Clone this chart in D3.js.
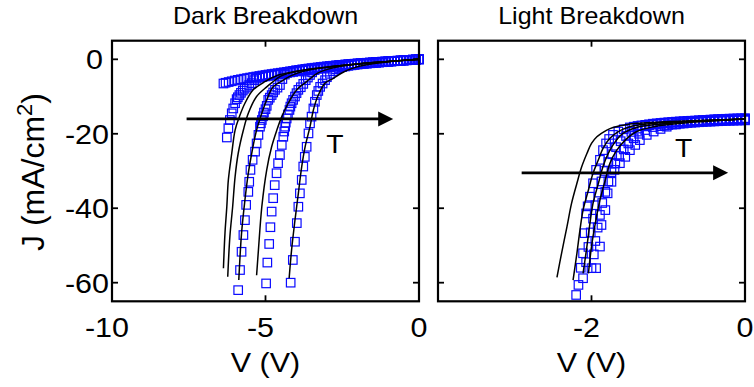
<!DOCTYPE html>
<html>
<head>
<meta charset="utf-8">
<script src="https://cdn.jsdelivr.net/npm/d3@7/dist/d3.min.js"></script>
<style>
  html, body { margin: 0; padding: 0; background: #fff; }
  svg { display: block; }
  text { font-family: "Liberation Sans", Arial, Helvetica, sans-serif; fill: #000; }
</style>
</head>
<body>
<svg id="chart" width="754" height="387"></svg>
<script>
// ---- Dark breakdown: measured J-V (squares), [V, J] ----
const darkA = [[0,0],[-0.1,-0.06],[-0.2,-0.12],[-0.3,-0.18],[-0.4,-0.24],[-0.5,-0.3],[-0.6,-0.36],[-0.7,-0.42],[-0.8,-0.48],[-0.9,-0.54],
  [-1,-0.6],[-1.1,-0.66],[-1.2,-0.72],[-1.3,-0.78],[-1.4,-0.84],[-1.5,-0.9],[-1.6,-0.96],[-1.7,-1.02],[-1.8,-1.08],[-1.9,-1.14],
  [-2,-1.2],[-2.1,-1.28],[-2.2,-1.36],[-2.3,-1.44],[-2.4,-1.52],[-2.5,-1.6],[-2.6,-1.68],[-2.7,-1.76],[-2.8,-1.84],[-2.9,-1.92],
  [-3,-2],[-3.1,-2.1],[-3.2,-2.2],[-3.3,-2.3],[-3.4,-2.4],[-3.5,-2.5],[-3.6,-2.6],[-3.7,-2.7],[-3.8,-2.8],[-3.9,-2.9],
  [-4,-3],[-4.1,-3.12],[-4.2,-3.24],[-4.3,-3.36],[-4.4,-3.48],[-4.5,-3.6],[-4.6,-3.72],[-4.7,-3.84],[-4.8,-3.96],[-4.9,-4.08],
  [-5,-4.2],[-5.1,-4.34],[-5.2,-4.48],[-5.3,-4.62],[-5.4,-4.76],[-5.5,-4.9],[-5.6,-5.05],[-5.7,-5.2],[-5.8,-5.36],[-5.9,-5.52],
  [-6,-5.7],[-6.1,-5.9],[-6.2,-6.1],[-6.3,-6.3],[-6.37,-6.5]];
const darkB = [[0,0],[-0.1,-0.07],[-0.2,-0.13],[-0.3,-0.2],[-0.4,-0.26],[-0.5,-0.33],[-0.6,-0.39],[-0.7,-0.46],[-0.8,-0.52],[-0.9,-0.59],
  [-1,-0.65],[-1.1,-0.72],[-1.2,-0.78],[-1.3,-0.85],[-1.4,-0.91],[-1.5,-0.98],[-1.6,-1.04],[-1.7,-1.11],[-1.8,-1.17],[-1.9,-1.24],
  [-2,-1.3],[-2.1,-1.39],[-2.2,-1.47],[-2.3,-1.56],[-2.4,-1.64],[-2.5,-1.73],[-2.6,-1.82],[-2.7,-1.9],[-2.8,-1.99],[-2.9,-2.08],
  [-3,-2.17],[-3.1,-2.27],[-3.2,-2.38],[-3.3,-2.49],[-3.4,-2.6],[-3.5,-2.71],[-3.6,-2.82],[-3.7,-2.93],[-3.8,-3.04],[-3.9,-3.15],
  [-4,-3.26],[-4.1,-3.39],[-4.2,-3.52],[-4.3,-3.65],[-4.4,-3.78],[-4.5,-3.91],[-4.6,-4.04],[-4.7,-4.18],[-4.8,-4.32],[-4.9,-4.46],
  [-5,-4.6],[-5.1,-4.76],[-5.2,-4.95],[-5.3,-5.2],[-5.37,-5.6],[-5.45,-6.4],[-5.53,-6.9],[-5.61,-7.4],[-5.68,-7.9],[-5.74,-8.4],
  [-5.8,-9],[-5.85,-9.6],[-5.9,-10.2],[-5.94,-10.7],[-5.99,-11.8],[-6.05,-13.2],[-6.1,-14.5],[-6.16,-16.3],[-6.21,-18.5],[-6.26,-21]];
const darkC = [[0,0],[-0.1,-0.05],[-0.2,-0.11],[-0.3,-0.16],[-0.4,-0.22],[-0.5,-0.27],[-0.6,-0.33],[-0.7,-0.38],[-0.8,-0.44],[-0.9,-0.49],
  [-1,-0.55],[-1.1,-0.6],[-1.2,-0.66],[-1.3,-0.72],[-1.4,-0.77],[-1.5,-0.83],[-1.6,-0.89],[-1.7,-0.95],[-1.8,-1.01],[-1.9,-1.07],
  [-2,-1.13],[-2.1,-1.2],[-2.2,-1.27],[-2.3,-1.34],[-2.4,-1.41],[-2.5,-1.48],[-2.6,-1.56],[-2.7,-1.64],[-2.8,-1.72],[-2.9,-1.8],
  [-3,-1.88],[-3.1,-1.97],[-3.2,-2.06],[-3.3,-2.16],[-3.4,-2.26],[-3.5,-2.36],[-3.6,-2.47],[-3.7,-2.58],[-3.8,-2.7],[-3.9,-2.83],
  [-4,-2.97],[-4.1,-3.13],[-4.2,-3.32],[-4.3,-3.56],[-4.37,-4.1],[-4.45,-5.3],[-4.53,-6.9],[-4.61,-7.6],[-4.69,-8.2],[-4.75,-8.9],
  [-4.8,-9.6],[-4.86,-10.3],[-4.91,-10.9],[-4.96,-12.5],[-5,-13.4],[-5.05,-14.3],[-5.08,-15.3],[-5.12,-16.3],[-5.15,-17.2],[-5.18,-18.1],
  [-5.23,-20.3],[-5.29,-22.6],[-5.34,-24.8],[-5.42,-27],[-5.49,-29.7],[-5.53,-32.9],[-5.56,-35.6],[-5.63,-39.1],[-5.67,-43.2],[-5.72,-47.2],
  [-5.78,-51.7],[-5.83,-56.6],[-5.89,-62]];
const darkD = [[0,0],[-0.1,-0.05],[-0.2,-0.1],[-0.3,-0.15],[-0.4,-0.2],[-0.5,-0.26],[-0.6,-0.31],[-0.7,-0.36],[-0.8,-0.41],[-0.9,-0.47],
  [-1,-0.52],[-1.1,-0.57],[-1.2,-0.63],[-1.3,-0.68],[-1.4,-0.74],[-1.5,-0.8],[-1.6,-0.86],[-1.7,-0.92],[-1.8,-0.98],[-1.9,-1.05],
  [-2,-1.12],[-2.1,-1.19],[-2.2,-1.26],[-2.3,-1.34],[-2.4,-1.42],[-2.5,-1.5],[-2.6,-1.59],[-2.7,-1.68],[-2.8,-1.78],[-2.9,-1.89],
  [-3,-2.01],[-3.1,-2.15],[-3.2,-2.32],[-3.3,-2.55],[-3.4,-2.9],[-3.48,-3.5],[-3.55,-4.2],[-3.62,-4.9],[-3.69,-5.6],[-3.77,-6.6],
  [-3.85,-7.5],[-3.93,-8.2],[-3.99,-9.1],[-4.04,-10],[-4.1,-10.9],[-4.15,-11.8],[-4.19,-12.7],[-4.22,-13.6],[-4.27,-14.8],[-4.31,-15.9],
  [-4.34,-17],[-4.36,-18.1],[-4.39,-19.4],[-4.42,-20.8],[-4.47,-23],[-4.53,-25.7],[-4.59,-27.9],[-4.64,-30.6],[-4.7,-33.8],[-4.75,-37.3],
  [-4.8,-40.9],[-4.84,-45.1],[-4.88,-49.6],[-4.94,-54.6],[-4.98,-60.2]];
const darkE = [[0,0],[-0.1,-0.05],[-0.2,-0.1],[-0.3,-0.18],[-0.4,-0.24],[-0.5,-0.3],[-0.6,-0.36],[-0.7,-0.42],[-0.8,-0.48],[-0.9,-0.55],
  [-1,-0.62],[-1.1,-0.69],[-1.2,-0.76],[-1.3,-0.83],[-1.4,-0.9],[-1.5,-0.98],[-1.6,-1.06],[-1.7,-1.14],[-1.8,-1.22],[-1.9,-1.31],
  [-2,-1.4],[-2.1,-1.5],[-2.2,-1.62],[-2.3,-1.76],[-2.4,-1.92],[-2.5,-2.1],[-2.6,-2.35],[-2.7,-2.7],[-2.8,-3.2],[-2.9,-3.9],
  [-3,-4.8],[-3.06,-5.6],[-3.14,-6.5],[-3.22,-7.4],[-3.28,-8.5],[-3.33,-9.6],[-3.39,-11.4],[-3.44,-13.2],[-3.5,-15.4],[-3.55,-17.2],
  [-3.6,-19.9],[-3.66,-23.5],[-3.72,-26.2],[-3.77,-28.8],[-3.82,-32.4],[-3.88,-36],[-3.93,-39.6],[-3.98,-44],[-4.04,-49],[-4.11,-53.9],
  [-4.18,-60]];

// ---- Dark breakdown: simulated curves (black lines) ----
const darkFit1 = [[0,0],[-1,-0.6],[-2,-1.25],[-3,-2.1],[-4,-3.2],[-4.6,-4.3],[-5.02,-6],[-5.4,-8.2],[-5.67,-11.8],[-5.85,-15.4],[-5.99,-19],
  [-6.1,-25.3],[-6.21,-32.4],[-6.26,-39.6],[-6.32,-46.7],[-6.37,-56.1]];
const darkFit2 = [[0,0],[-1,-0.6],[-2,-1.25],[-3,-2.1],[-4,-3.3],[-4.5,-4.5],[-4.75,-6],[-4.96,-7.4],[-5.29,-10],[-5.56,-14.5],[-5.72,-19],
  [-5.89,-25.3],[-5.99,-31.5],[-6.07,-39.6],[-6.16,-47.6],[-6.23,-58.4]];
const darkFit3 = [[0,0],[-1,-0.6],[-2,-1.25],[-3,-2.1],[-3.8,-3.3],[-4.2,-4.5],[-4.42,-5.6],[-4.75,-7.4],[-4.96,-10.9],[-5.12,-14.5],[-5.29,-19],
  [-5.45,-25.3],[-5.56,-30.6],[-5.67,-37.8],[-5.78,-46.7],[-5.87,-59.3]];
const darkFit4 = [[0,0],[-1,-0.6],[-2,-1.3],[-2.8,-2.3],[-3.3,-3.7],[-3.66,-6],[-3.98,-8.2],[-4.26,-11.8],[-4.47,-15.4],[-4.63,-19],[-4.8,-23.5],
  [-4.96,-29.7],[-5.12,-39.6],[-5.23,-51.2],[-5.29,-58]];
const darkFit5 = [[0,0],[-1,-0.65],[-1.8,-1.6],[-2.2,-2.5],[-2.5,-3.6],[-2.79,-5.1],[-3.06,-6.4],[-3.28,-9.6],[-3.44,-13.6],[-3.55,-18.1],[-3.71,-23.5],
  [-3.82,-28.8],[-3.93,-36],[-4.04,-43.2],[-4.15,-51.2],[-4.23,-58.8]];

// ---- Light breakdown: measured J-V (squares), [V, J] ----
const lightA = [[0,-16],[-0.05,-16.02],[-0.1,-16.05],[-0.15,-16.07],[-0.2,-16.1],[-0.25,-16.12],[-0.3,-16.15],[-0.35,-16.17],[-0.4,-16.2],[-0.45,-16.25],
  [-0.5,-16.3],[-0.55,-16.35],[-0.6,-16.4],[-0.65,-16.45],[-0.7,-16.5],[-0.75,-16.55],[-0.8,-16.6],[-0.85,-16.67],[-0.9,-16.75],[-0.95,-16.82],
  [-1,-16.9],[-1.05,-17],[-1.1,-17.1],[-1.15,-17.2],[-1.2,-17.3],[-1.25,-17.45],[-1.3,-17.6],[-1.35,-17.75],[-1.4,-17.9],[-1.45,-18.1],
  [-1.5,-18.3],[-1.58,-18.8],[-1.65,-19.4],[-1.72,-20.3],[-1.77,-21.4],[-1.81,-22.6],[-1.85,-24.4],[-1.89,-27],[-1.94,-29.7],[-1.98,-33.3],
  [-2.02,-36.9],[-2.05,-39.5],[-2.07,-41.4],[-2.09,-46.7],[-2.11,-52.1],[-2.14,-56],[-2.17,-60.6],[-2.2,-63.3]];
const lightB = [[0,-16.2],[-0.05,-16.22],[-0.1,-16.25],[-0.15,-16.27],[-0.2,-16.3],[-0.25,-16.33],[-0.3,-16.36],[-0.35,-16.4],[-0.4,-16.44],[-0.45,-16.48],
  [-0.5,-16.52],[-0.55,-16.57],[-0.6,-16.62],[-0.65,-16.67],[-0.7,-16.72],[-0.75,-16.78],[-0.8,-16.84],[-0.85,-16.9],[-0.9,-16.97],[-0.95,-17.05],
  [-1,-17.13],[-1.05,-17.22],[-1.1,-17.32],[-1.15,-17.43],[-1.2,-17.55],[-1.25,-17.68],[-1.3,-17.82],[-1.4,-18.6],[-1.48,-19.5],[-1.55,-20.6],
  [-1.62,-22],[-1.68,-23.6],[-1.73,-25.5],[-1.78,-27.6],[-1.83,-30],[-1.87,-32.8],[-1.91,-35.8],[-1.95,-39.2],[-1.98,-42.8],[-2.01,-46.5],
  [-2.04,-50.4],[-2.07,-54.5],[-2.11,-58.8]];
const lightC = [[0,-16.4],[-0.05,-16.42],[-0.1,-16.45],[-0.15,-16.48],[-0.2,-16.51],[-0.25,-16.55],[-0.3,-16.59],[-0.35,-16.63],[-0.4,-16.68],[-0.45,-16.73],
  [-0.5,-16.78],[-0.55,-16.84],[-0.6,-16.9],[-0.65,-16.97],[-0.7,-17.04],[-0.75,-17.12],[-0.8,-17.2],[-0.85,-17.3],[-0.9,-17.4],[-0.95,-17.52],
  [-1,-17.65],[-1.05,-17.8],[-1.1,-17.95],[-1.2,-18.2],[-1.3,-19],[-1.38,-20],[-1.45,-21.2],[-1.52,-22.6],[-1.58,-24.2],[-1.64,-26],
  [-1.69,-28],[-1.74,-30.3],[-1.78,-32.8],[-1.82,-35.6],[-1.86,-38.6],[-1.89,-41.8],[-1.92,-45.2],[-1.95,-48.8],[-1.97,-52.4],[-2,-56.1]];
const lightD = [[0,-15.8],[-0.05,-15.83],[-0.1,-15.86],[-0.15,-15.9],[-0.2,-15.94],[-0.25,-15.98],[-0.3,-16.03],[-0.35,-16.08],[-0.4,-16.14],[-0.45,-16.2],
  [-0.5,-16.27],[-0.55,-16.35],[-0.6,-16.44],[-0.65,-16.54],[-0.7,-16.65],[-0.75,-16.78],[-0.8,-17.2],[-0.9,-17.5],[-1.02,-18.1],[-1.1,-18.7],
  [-1.19,-19.4],[-1.28,-20.3],[-1.37,-21.7],[-1.43,-23],[-1.5,-24.4],[-1.56,-26.2],[-1.63,-27.9],[-1.7,-29.7],[-1.74,-32.9],[-1.79,-36],
  [-1.82,-40.5],[-1.87,-44.5],[-1.89,-50.3],[-1.94,-56.1]];

// ---- Light breakdown: simulated curves (black lines) ----
const lightFit1 = [[0,-16],[-0.7,-16.5],[-1.41,-17.2],[-1.59,-17.7],[-1.72,-18.3],[-1.8,-19],[-1.87,-19.9],[-1.93,-20.8],[-2,-22.6],[-2.06,-25.3],
  [-2.13,-29],[-2.19,-33.3],[-2.26,-38.7],[-2.32,-45],[-2.39,-52.1],[-2.45,-58.6]];
const lightFit2 = [[0,-16],[-0.7,-16.6],[-1.28,-17.4],[-1.5,-18.1],[-1.65,-19.4],[-1.76,-21.2],[-1.85,-23.9],[-1.91,-27],[-1.98,-30.6],[-2.04,-35.1],
  [-2.11,-40.5],[-2.15,-45.8],[-2.19,-52.1],[-2.24,-59.3]];
const lightFit3 = [[0,-16],[-0.7,-16.7],[-1.19,-17.6],[-1.41,-18.3],[-1.59,-19.9],[-1.69,-22.1],[-1.78,-25.2],[-1.85,-28.8],[-1.91,-33.3],[-1.98,-38.7],
  [-2.02,-44],[-2.06,-50.3],[-2.11,-57.5]];
const lightFit4 = [[0,-16],[-0.6,-16.8],[-0.93,-17.4],[-1.19,-18.1],[-1.41,-19.4],[-1.56,-21.7],[-1.67,-24.4],[-1.76,-27.9],[-1.82,-32.4],[-1.89,-37.8],
  [-1.95,-44],[-2,-50.3],[-2.04,-57.5]];

const yTicks = [0, -20, -40, -60];
const darkXTicks = [-10, -5, 0];
const lightXTicks = [-2, 0];

// ---- layout ----
const svg = d3.select("#chart");
const SX = 1.09;               // horizontal stretch of the lettering in the reference
const yTop = 40.7, yBottom = 301.3;
const y = d3.scaleLinear().domain([-65, 5]).range([yBottom, yTop]);

function txt(g, x, yy, s, size, anchor) {
    return g.append("text")
        .attr("transform", `translate(${x},${yy}) scale(${SX},1)`)
        .attr("font-size", size)
        .attr("text-anchor", anchor)
        .text(s);
}

function drawPanel(opt) {
    const x = d3.scaleLinear().domain(opt.domain).range([opt.left, opt.right]);
    const g = svg.append("g");

    // squares
    const sq = 8.5;
    opt.squares.forEach(series => {
        g.append("g").selectAll("rect").data(series).join("rect")
            .attr("x", d => x(d[0]) - sq / 2)
            .attr("y", d => y(d[1]) - sq / 2)
            .attr("width", sq).attr("height", sq)
            .attr("fill", "none")
            .attr("stroke", "#0a0aff")
            .attr("stroke-width", 1.2);
    });

    // fitted curves
    const line = d3.line().x(d => x(d[0])).y(d => y(d[1])).curve(d3.curveCatmullRom.alpha(0.5));
    opt.lines.forEach(series => {
        g.append("path").attr("d", line(series))
            .attr("fill", "none").attr("stroke", "#000").attr("stroke-width", 1.5);
    });

    // arrow + T
    const a = opt.arrow;
    const ay = y(a.j), ax0 = x(a.from), ax1 = x(a.to);
    g.append("line").attr("x1", ax0).attr("x2", ax1 - 14).attr("y1", ay).attr("y2", ay)
        .attr("stroke", "#000").attr("stroke-width", 2.8);
    g.append("path").attr("d", `M${ax1},${ay}L${ax1 - 15},${ay - 7.5}L${ax1 - 15},${ay + 7.5}Z`).attr("fill", "#000");
    txt(g, x(a.tV), y(a.tJ), "T", 26, "middle");

    // frame
    g.append("rect").attr("x", opt.left).attr("y", yTop)
        .attr("width", opt.right - opt.left).attr("height", yBottom - yTop)
        .attr("fill", "none").attr("stroke", "#000").attr("stroke-width", 2.2);

    // ticks (inward, all four sides)
    const tk = 6;
    opt.xTicks.forEach(v => {
        g.append("line").attr("x1", x(v)).attr("x2", x(v)).attr("y1", yBottom).attr("y2", yBottom - tk)
            .attr("stroke", "#000").attr("stroke-width", 1.8);
        g.append("line").attr("x1", x(v)).attr("x2", x(v)).attr("y1", yTop).attr("y2", yTop + tk)
            .attr("stroke", "#000").attr("stroke-width", 1.8);
        txt(g, x(v) + (v < 0 ? -5 : 0), 337, String(v), 28, "middle");
    });
    yTicks.forEach(v => {
        g.append("line").attr("x1", opt.left).attr("x2", opt.left + tk).attr("y1", y(v)).attr("y2", y(v))
            .attr("stroke", "#000").attr("stroke-width", 1.8);
        g.append("line").attr("x1", opt.right).attr("x2", opt.right - tk).attr("y1", y(v)).attr("y2", y(v))
            .attr("stroke", "#000").attr("stroke-width", 1.8);
        if (opt.yLabels) txt(g, opt.left - 3 - (v === 0 ? 6 : 0), y(v) + 10, String(v), 28, "end");
    });

    txt(g, (opt.left + opt.right) / 2, 24, opt.title, 23, "middle");
    txt(g, (opt.left + opt.right) / 2, 372, "V (V)", 28, "middle");
}

drawPanel({
    left: 112, right: 419, domain: [-10, 0], xTicks: darkXTicks, yLabels: true,
    squares: [darkA, darkB, darkC, darkD, darkE],
    lines: [darkFit1, darkFit2, darkFit3, darkFit4, darkFit5],
    arrow: { from: -7.57, to: -0.84, j: -16, tV: -2.74, tJ: -25.2 },
    title: "Dark Breakdown"
});
drawPanel({
    left: 438, right: 745, domain: [-4, 0], xTicks: lightXTicks, yLabels: false,
    squares: [lightA, lightB, lightC, lightD],
    lines: [lightFit1, lightFit2, lightFit3, lightFit4],
    arrow: { from: -2.91, to: -0.22, j: -30.5, tV: -0.8, tJ: -26.2 },
    title: "Light Breakdown"
});

// y axis label
const yl = svg.append("text")
    .attr("transform", `translate(44,172) rotate(-90)`)
    .attr("font-size", 32)
    .attr("text-anchor", "middle");
yl.append("tspan").text("J (mA/cm");
yl.append("tspan").attr("font-size", 22).attr("dy", -12).text("2");
yl.append("tspan").attr("dy", 12).text(")");
</script>
</body>
</html>
